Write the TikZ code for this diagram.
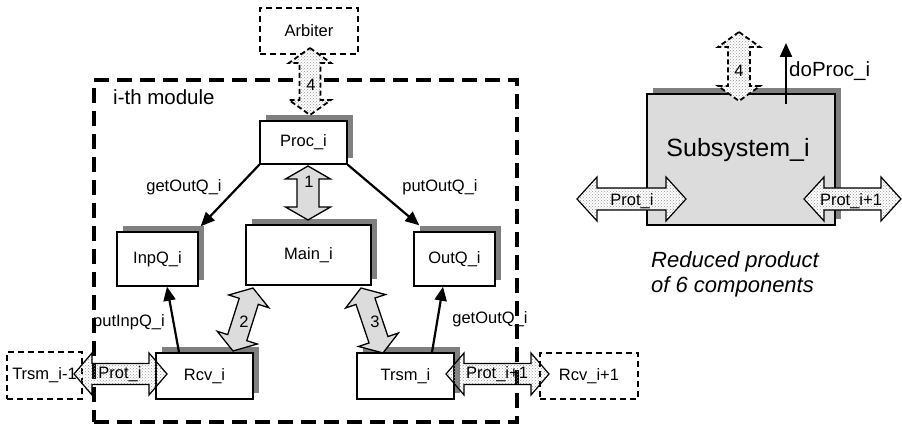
\documentclass[tikz,border=0pt]{standalone}
\usepackage{fontspec}
\setmainfont{Liberation Sans}
\usetikzlibrary{shadows,patterns,arrows.meta,calc}
\definecolor{shad}{HTML}{808080}
\definecolor{lgray}{HTML}{DCDCDC}
\newcommand{\lab}{\fontsize{16.5}{19}\selectfont}
\newcommand{\blockarr}[6]{%
  \path (#2); \pgfgetlastxy{\bax}{\bay}%
  \path (#3); \pgfgetlastxy{\bbx}{\bby}%
  \pgfmathsetmacro{\bang}{atan2(\bby-\bay,\bbx-\bax)}%
  \pgfmathsetmacro{\blen}{veclen(\bbx-\bax,\bby-\bay)}%
  \begin{scope}[shift={(\bax,\bay)},rotate=\bang]
    \draw[#1] (0pt,0pt) -- (#4pt,#5pt) -- (#4pt,#6pt) -- ({\blen pt-#4pt},#6pt)
      -- ({\blen pt-#4pt},#5pt) -- (\blen pt,0pt) -- ({\blen pt-#4pt},-#5pt)
      -- ({\blen pt-#4pt},-#6pt) -- (#4pt,-#6pt) -- (#4pt,-#5pt) -- cycle;
  \end{scope}}
\begin{document}
\begin{tikzpicture}[x=1pt,y=-1pt,
  box/.style={draw, line width=1.4pt, fill=white, inner sep=0pt, font=\lab,
    general shadow={fill=shad, shadow xshift=6pt, shadow yshift=6pt}},
  ghost/.style={draw, line width=1.8pt, dash pattern=on 6pt off 4pt, inner sep=0pt, font=\lab},
  modframe/.style={draw, line width=3.5pt, dash pattern=on 15pt off 8pt, inner sep=0pt},
  grayarr/.style={draw, line width=1.3pt, fill=lgray, line join=miter},
  protarr/.style={draw, line width=1.2pt, pattern=crosshatch dots, pattern color=gray!80},
  protarrw/.style={draw, line width=1.2pt, preaction={fill=white}, pattern=crosshatch dots, pattern color=gray!80},
  arbarr/.style={draw, line width=1.8pt, dash pattern=on 5pt off 3pt, preaction={fill=white}, pattern=crosshatch dots, pattern color=gray!80},
  conn/.style={line width=2.2pt, -{Triangle[length=14pt,width=12pt]}},
  txt/.style={inner sep=0pt, font=\lab}
]
\useasboundingbox (0,0) rectangle (902,427);

% module frame
\node[modframe, minimum width=423pt, minimum height=342pt] (module) at (305.5,251) {};
\node[anchor=base west, inner sep=0pt, font=\fontsize{20.5}{24}\selectfont] (modlab) at (113,105) {i-th module};

% boxes
\node[ghost, minimum width=98pt, minimum height=46pt] (arb) at (309,31) {Arbiter};
\node[box, minimum width=87pt, minimum height=43pt] (proc) at (303.5,142.5) {Proc\_i};
\node[box, minimum width=81pt, minimum height=54pt] (inpq) at (157.5,259) {InpQ\_i};
\node[box, minimum width=125pt, minimum height=60pt] (main) at (308.5,255) {Main\_i};
\node[box, minimum width=81pt, minimum height=54pt] (outq) at (454.5,259) {OutQ\_i};
\node[box, minimum width=97pt, minimum height=46pt] (rcv) at (204.5,376) {Rcv\_i};
\node[box, minimum width=97pt, minimum height=46pt] (trsm) at (405.5,376) {Trsm\_i};
\node[ghost, minimum width=75pt, minimum height=47pt] (trsmp) at (44.5,375.5) {Trsm\_i-1};
\node[ghost, minimum width=98pt, minimum height=46pt] (rcvn) at (589,376) {Rcv\_i+1};

% right subsystem
\node[box, fill=lgray, minimum width=188pt, minimum height=131pt] (sub) at (741,159.5) {};
\node[anchor=base, inner sep=0pt, font=\fontsize{25}{29}\selectfont] (subtxt) at (738,157) {Subsystem\_i};

% coordinates for block arrows
\coordinate (a1s) at (308,166);   \coordinate (a1e) at (308,220);
\coordinate (a2s) at (253,288);   \coordinate (a2e) at (233,351);
\coordinate (a3s) at (361,288);   \coordinate (a3e) at (383,353);
\coordinate (a4s) at (310,48);    \coordinate (a4e) at (310,115);
\coordinate (p1s) at (74,374);    \coordinate (p1e) at (167,374);
\coordinate (p2s) at (446,374);   \coordinate (p2e) at (549,374);
\coordinate (r4s) at (739,32);    \coordinate (r4e) at (739,101);
\coordinate (rp1s) at (577,199);  \coordinate (rp1e) at (686,199);
\coordinate (rp2s) at (804,199);  \coordinate (rp2e) at (901,199);

\blockarr{grayarr}{a1s}{a1e}{13}{22.5}{11}
\blockarr{grayarr}{a2s}{a2e}{14}{21}{10}
\blockarr{grayarr}{a3s}{a3e}{14}{21}{10}
\blockarr{arbarr}{a4s}{a4e}{15}{21}{10.5}
\blockarr{protarr}{p1s}{p1e}{18}{21}{10.5}
\blockarr{protarr}{p2s}{p2e}{18}{21}{10.5}
\blockarr{arbarr}{r4s}{r4e}{15}{21}{11}
\blockarr{protarrw}{rp1s}{rp1e}{20}{22}{11}
\blockarr{protarrw}{rp2s}{rp2e}{20}{22}{11}

% line connectors
\draw[conn] (proc.south west) -- ([shift={(2,-5)}]inpq.north east);
\draw[conn] (proc.south east) -- ([shift={(6,-6)}]outq.north west);
\draw[conn] ([xshift=-25.5]rcv.north) -- ([xshift=9.5]inpq.south);
\draw[conn] ([xshift=26.5]trsm.north) -- ([xshift=-11.5]outq.south);
\coordinate (dpe) at (786,43);
\draw[conn] ([shift={(45,11)}]sub.north) -- (dpe);

% labels
\node[txt, anchor=base] (l1) at (309,188) {1};
\node[txt, anchor=base] (l2) at (244,328) {2};
\node[txt, anchor=base] (l3) at (375,328) {3};
\node[txt, anchor=base] (l4) at (311,91) {4};
\node[txt, anchor=base] (r4) at (739,77) {4};
\node[txt, anchor=base] (lg1) at (184,192) {getOutQ\_i};
\node[txt, anchor=base] (lp1) at (440,192) {putOutQ\_i};
\node[txt, anchor=base] (lp2) at (129,327) {putInpQ\_i};
\node[txt, anchor=base] (lg2) at (490,324) {getOutQ\_i};
\node[txt, anchor=base] (lpr1) at (120,378) {Prot\_i};
\node[txt, anchor=base] (lpr2) at (497,378) {Prot\_i+1};
\node[txt, anchor=base] (lrp1) at (632,206) {Prot\_i};
\node[txt, anchor=base] (lrp2) at (851,206) {Prot\_i+1};
\node[anchor=base west, inner sep=0pt, font=\fontsize{20.5}{24}\selectfont] (dpl) at (789,77) {doProc\_i};
\node[anchor=base west, inner sep=0pt, font=\fontsize{22}{26}\selectfont\itshape] (red1) at (651,268) {Reduced product};
\node[anchor=base west, inner sep=0pt, font=\fontsize{22}{26}\selectfont\itshape] (red2) at (651,293) {of 6 components};
\end{tikzpicture}
\end{document}
